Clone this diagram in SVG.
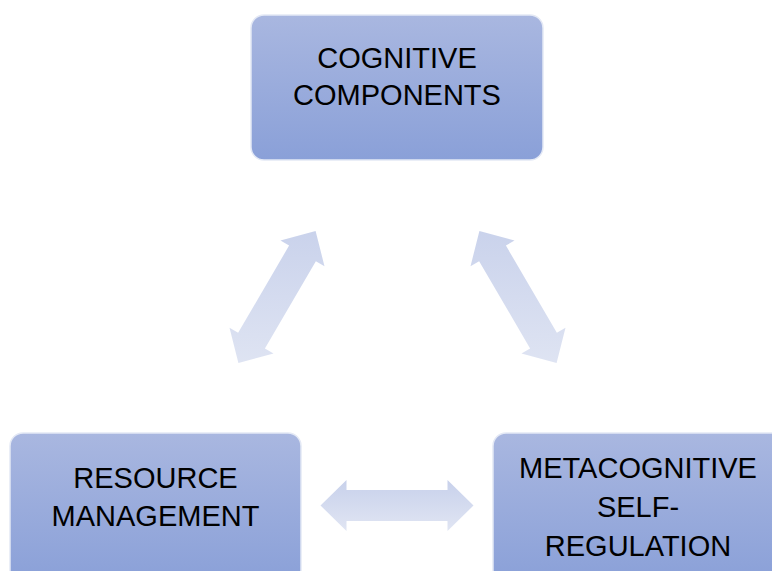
<svg xmlns="http://www.w3.org/2000/svg" xmlns:xlink="http://www.w3.org/1999/xlink" width="772" height="571" viewBox="0 0 772 571">
<style>
.box{fill:url(#boxGrad);stroke:#e4e9f5;stroke-width:1.5}
.lbl{font-family:"Liberation Sans",Arial,sans-serif;font-size:29px;fill:#000;text-anchor:middle}
.diag{fill:url(#diagGrad)}
.horiz{fill:url(#horizGrad)}
</style>
<defs>
<linearGradient id="boxGrad" x1="0" y1="0" x2="0" y2="1">
<stop offset="0" stop-color="#a9b7e0"/>
<stop offset="1" stop-color="#8aa0d8"/>
</linearGradient>
<linearGradient id="diagGrad" gradientUnits="userSpaceOnUse" x1="66" y1="-39" x2="-66" y2="39">
<stop offset="0" stop-color="#c8d1eb"/>
<stop offset="1" stop-color="#e0e5f3"/>
</linearGradient>
<linearGradient id="horizGrad" gradientUnits="userSpaceOnUse" x1="0" y1="-25" x2="0" y2="25">
<stop offset="0" stop-color="#c8d1eb"/>
<stop offset="1" stop-color="#e0e5f3"/>
</linearGradient>
<polygon id="dblArrow" points="-76.5,0 -50.5,-25.5 -50.5,-15.5 50.5,-15.5 50.5,-25.5 76.5,0 50.5,25.5 50.5,15.5 -50.5,15.5 -50.5,25.5"/>
</defs>
<rect width="772" height="571" fill="#fff"/>
<g id="connectors">
<use xlink:href="#dblArrow" class="diag" transform="translate(277,297) rotate(-59.7)"/>
<use xlink:href="#dblArrow" class="diag" transform="translate(518,297) rotate(59.7) scale(-1,1)"/>
<use xlink:href="#dblArrow" class="horiz" transform="translate(397,505.5)"/>
</g>
<g id="cognitive-components">
<rect class="box" x="251" y="15" width="292" height="145" rx="13"/>
<text class="lbl" x="397" y="68">COGNITIVE</text>
<text class="lbl" x="397" y="105">COMPONENTS</text>
</g>
<g id="resource-management">
<rect class="box" x="10" y="433" width="291" height="150" rx="13"/>
<text class="lbl" x="155.5" y="488">RESOURCE</text>
<text class="lbl" x="155.5" y="526">MANAGEMENT</text>
</g>
<g id="metacognitive-self-regulation">
<rect class="box" x="493" y="433" width="291" height="150" rx="13"/>
<text class="lbl" x="638" y="478">METACOGNITIVE</text>
<text class="lbl" x="638" y="517">SELF-</text>
<text class="lbl" x="638" y="556">REGULATION</text>
</g>
</svg>
